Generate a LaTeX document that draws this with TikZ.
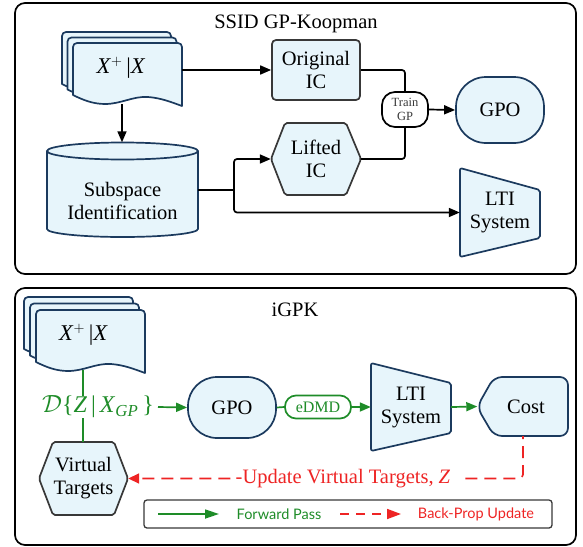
\documentclass[tikz,border=0pt]{standalone}
\usepackage{fontspec}
\setmainfont{Liberation Serif}
\newfontfamily\keyfont{Lato}
\usetikzlibrary{arrows.meta}
\definecolor{paleblue}{HTML}{E7F5FB}
\definecolor{navy}{HTML}{1B3A5E}
\definecolor{slate}{HTML}{383838}
\definecolor{fwdgreen}{HTML}{1E8C28}
\definecolor{backred}{HTML}{EE2424}
\begin{document}
\begin{tikzpicture}[x=1pt, y=-1pt, line join=round,
  bluenavy/.style={fill=paleblue, draw=navy, line width=1.7pt},
  bluegray/.style={fill=paleblue, draw=slate, line width=1.7pt},
  panel/.style={draw=black, line width=1.7pt, rounded corners=10pt},
  txt/.style={align=center, inner sep=0pt, font=\fontsize{20.5}{23}\selectfont},
  datatxt/.style={inner sep=0pt, font=\fontsize{22.5}{24}\selectfont},
  keytxt/.style={inner sep=0pt, font=\keyfont\fontsize{14.5}{16}\selectfont},
  wire/.style={draw=black, line width=1.7pt, rounded corners=3pt},
  arrow/.style={wire, -{Triangle[length=11pt, width=9pt]}},
  fwdwire/.style={draw=fwdgreen, line width=1.7pt},
  fwdarrow/.style={fwdwire, -{Triangle[length=11pt, width=9pt]}},
  backarrow/.style={draw=backred, line width=1.7pt, dash pattern=on 12pt off 7pt, dash phase=9pt,
    rounded corners=4pt, -{Triangle[length=11pt, width=10pt]}},
  docsheet/.pic={
    \path[bluenavy] [rounded corners=4pt] (0,52) -- (0,0) -- (109,0) [sharp corners] -- (109,63)
      .. controls (98,59) and (88,55) .. (75,54)
      .. controls (60,53) and (48,61) .. (32,61)
      .. controls (20,61) and (10,57) .. (0,52) -- cycle;
  }]
\useasboundingbox (0,0) rectangle (583,546);

% ---------------- upper panel: SSID GP-Koopman ----------------
\draw[panel] (15,3) rectangle (576,274);
\node[txt] (title1) at (296,24) {SSID GP-Koopman};

% stacked data sheets
\pic at (62,32) {docsheet};
\pic at (67.5,37.5) {docsheet};
\pic at (73,43) {docsheet};
\node[inner sep=0pt, minimum width=109pt, minimum height=64pt] (doc1) at (127.5,75) {};
\node[datatxt] (data1) at (121,68) {\textit{X}$^{+}$\,|\textit{X}};
\coordinate (w1) at (122,104);

% subspace identification cylinder
\path[bluenavy] (47,151) -- (47,229)
  .. controls (47,233.4) and (80.8,237) .. (122.5,237)
  .. controls (164.2,237) and (198,233.4) .. (198,229) -- (198,151) -- cycle;
\path[bluenavy] (122.5,151) ellipse [x radius=75.5pt, y radius=8.5pt];
\node[inner sep=0pt, minimum width=151pt, minimum height=95pt] (cyl) at (122.5,190) {};
\node[txt] (cyltext) at (122.5,201) {Subspace\\Identification};

% original initial conditions
\node[bluegray, rounded corners=4pt, txt, minimum width=88pt, minimum height=60pt] (orig) at (316,70) {Original\\IC};

% lifted initial conditions
\path[bluegray, rounded corners=2pt] (271,159) -- (285,123) -- (346,123) -- (361,159) -- (346,195) -- (285,195) -- cycle;
\node[txt, minimum width=90pt, minimum height=72pt] (lift) at (316,159) {Lifted\\IC};

% training step
\node[draw=black, fill=white, line width=1.7pt, rounded corners=13pt, align=center, inner sep=0pt,
  minimum width=46pt, minimum height=35pt, text=slate, font=\fontsize{12.5}{14}\selectfont] (train) at (405,109.5) {Train\\GP};

% GP operator
\node[bluenavy, rounded corners=30pt, txt, minimum width=88pt, minimum height=66pt] (gpo1) at (500,110) {GPO};

% LTI system
\path[bluenavy, rounded corners=2pt] (460,168) -- (540,190) -- (540,238) -- (460,257) -- cycle;
\node[txt, minimum width=80pt, minimum height=89pt] (lti1) at (500,212.5) {LTI\\System};

% connectors
\draw[arrow] (orig.west -| doc1.east) -- (orig.west);
\draw[arrow] (w1) -- (w1 |- cyl.north);
\coordinate (fork) at (234,190);
\draw[wire] (cyl.east |- fork) -- (fork);
\draw[arrow] (fork) |- (lift.west);
\draw[arrow] (fork) |- (lti1.west);
\draw[wire] (orig.east) -| (train.north);
\draw[wire] (lift.east) -| (train.south);
\draw[arrow] (train.east) -- (gpo1.west);

% ---------------- lower panel: iGPK ----------------
\draw[panel] (15,288) rectangle (576,545);
\node[txt] (title2) at (295,310) {iGPK};

\pic at (24,297) {docsheet};
\pic at (30,303.5) {docsheet};
\pic at (36,310) {docsheet};
\node[inner sep=0pt, minimum width=109pt, minimum height=64pt] (doc2) at (90.5,342) {};
\node[datatxt] (data2) at (83.5,335) {\textit{X}$^{+}$\,|\textit{X}};
\coordinate (w2) at (83,370);

% distribution label
\node[txt, text=fwdgreen, font=\fontsize{24}{26}\selectfont, inner xsep=1pt] (dz) at (98,407)
  {$\mathcal{D}$\{\textit{Z}\,|\,\textit{X}\textsubscript{\textit{GP}}\,\}};

% virtual targets
\path[bluegray, rounded corners=2pt] (39,478.5) -- (53,442) -- (114,442) -- (128,478.5) -- (114,515) -- (53,515) -- cycle;
\node[txt, minimum width=89pt, minimum height=73pt] (virt) at (83.5,478.5) {Virtual\\Targets};

% GP operator
\node[bluenavy, rounded corners=29pt, txt, minimum width=88pt, minimum height=61pt] (gpo2) at (232,407.5) {GPO};

% eDMD step
\node[draw=fwdgreen, fill=white, line width=1.7pt, rounded corners=11pt, inner sep=0pt,
  minimum width=66pt, minimum height=23pt, text=fwdgreen, font=\fontsize{16}{18}\selectfont] (edmd) at (318,407) {eDMD};

% LTI system
\path[bluenavy, rounded corners=2pt] (371,363) -- (451,383) -- (451,433) -- (371,451) -- cycle;
\node[txt, minimum width=80pt, minimum height=88pt] (lti2) at (411,407) {LTI\\System};

% cost
\path[bluenavy, rounded corners=8pt] (477,407) -- (494,377) -- (568,377) -- (568,436) -- (494,436) -- cycle;
\node[txt, minimum width=91pt, minimum height=59pt] (cost) at (523,406.5) {};
\node[txt] (costtext) at (526,406.5) {Cost};

% forward pass
\draw[fwdwire] (w2) -- (w2 |- dz.north);
\draw[fwdwire] (w2 |- dz.south) -- (w2 |- virt.north);
\draw[fwdarrow] (dz.east) ++(3,0) -- (gpo2.west);
\draw[fwdwire] (gpo2.east) -- (edmd.west);
\draw[fwdarrow] (edmd.east) -- (lti2.west);
\draw[fwdarrow] (lti2.east) -- (cost.west);

% backward update
\draw[backarrow] (cost.south) |- (virt.east);
\node[txt, text=backred, fill=white, inner xsep=3pt, inner ysep=2pt] (upd) at (346,478.5)
  {-Update Virtual Targets, \textit{Z}\hspace{6pt}};

% legend
\node[draw=slate, line width=1.3pt, rounded corners=3pt, inner sep=0pt,
  minimum width=408pt, minimum height=28pt] (legend) at (348,514) {};
\coordinate (kf1) at (158,514);
\coordinate (kf2) at (219,514);
\draw[fwdwire, -{Triangle[length=14pt, width=9pt]}] (kf1) -- (kf2);
\node[keytxt, text=fwdgreen] (kfl) at (279,514) {Forward Pass};
\coordinate (kb1) at (340,514);
\coordinate (kb2) at (401,514);
\draw[draw=backred, line width=1.7pt, dash pattern=on 9pt off 7pt, -{Triangle[length=14pt, width=10pt]}] (kb1) -- (kb2);
\node[keytxt, text=backred] (kbl) at (476,514) {Back-Prop Update};
\end{tikzpicture}
\end{document}
